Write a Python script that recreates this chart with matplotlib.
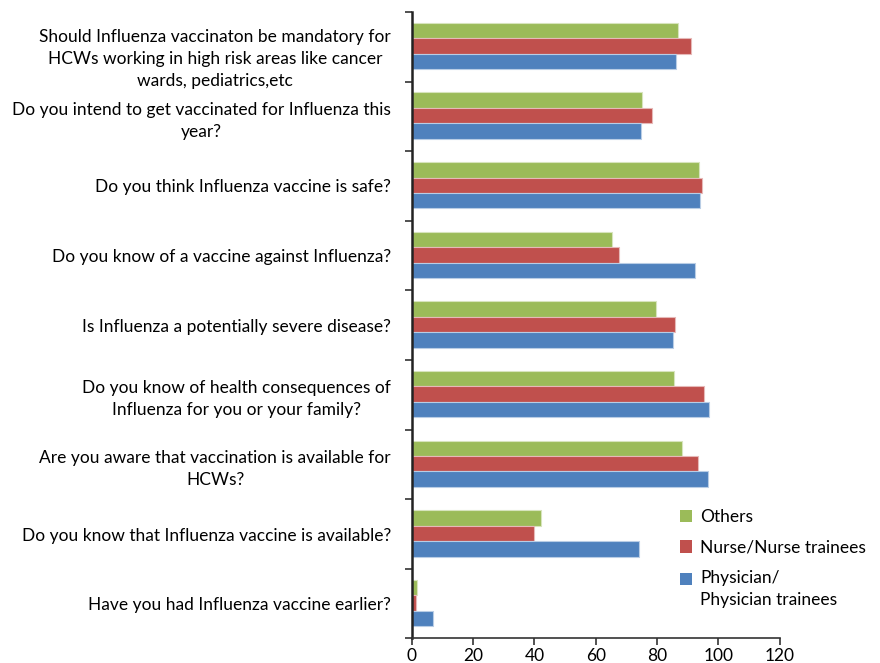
import numpy as np
import matplotlib as mpl
import matplotlib.pyplot as plt
import matplotlib.patches as mpatches
from matplotlib.legend_handler import HandlerPatch

mpl.rcParams['font.family'] = ['Lato', 'DejaVu Sans']

# categories, top to bottom
questions = [
    "Should Influenza vaccinaton be mandatory for\nHCWs working in high risk areas like cancer\nwards, pediatrics,etc",
    "Do you intend to get vaccinated for Influenza this\nyear?",
    "Do you think Influenza vaccine is safe?",
    "Do you know of a vaccine against Influenza?",
    "Is Influenza a potentially severe disease?",
    "Do you know of health consequences of\nInfluenza for you or your family?",
    "Are you aware that vaccination is available for\nHCWs?",
    "Do you know that Influenza vaccine is available?",
    "Have you had Influenza vaccine earlier?",
]
others = [86.7, 75.0, 93.6, 65.3, 79.8, 85.5, 88.0, 42.1, 1.6]
nurses = [91.0, 78.2, 94.5, 67.5, 85.8, 95.2, 93.3, 40.0, 1.2]
physicians = [86.2, 74.9, 94.0, 92.4, 85.1, 97.1, 96.5, 74.1, 6.8]

series_names = ["Others", "Nurse/Nurse trainees", "Physician/\nPhysician trainees"]
colors = ["#9BBB59", "#C0504D", "#4F81BD"]
edges = ["#D7E4BD", "#E6B9B8", "#B9CDE5"]

fig = plt.figure(figsize=(8.8, 6.63), dpi=100)
ax = fig.add_axes([0.468, 0.037, 0.418, 0.945])

n = len(questions)
pos = np.arange(n)[::-1].astype(float)  # top category highest
h = 0.222
offsets = [h, 0.0, -h]
for vals, off, c, e in zip([others, nurses, physicians], offsets, colors, edges):
    ax.barh(pos + off + 0.01, vals, height=h, color=c, edgecolor=e, linewidth=0.8)

ax.set_xlim(0, 120)
ax.set_ylim(-0.5, n - 0.5)
ax.set_xticks(np.arange(0, 121, 20))
# ラベル位置（1行目の3行ラベルは少し下げる）
label_pos = pos.copy()
label_pos[0] -= 0.11
ax.set_yticks(label_pos)
ax.set_yticklabels(questions, multialignment='center', fontsize=12.5, linespacing=1.45)
ax.set_yticks(np.arange(-0.5, n, 1.0), minor=True)

ax.tick_params(axis='y', which='major', length=0, pad=15)
ax.tick_params(axis='y', which='minor', length=5, width=1.2, direction='out', color='#333333')
ax.tick_params(axis='x', which='major', length=5, width=1.2, direction='out', labelsize=12.5, color='#333333', pad=2)

for s in ['top', 'right']:
    ax.spines[s].set_visible(False)
ax.spines['left'].set_linewidth(1.8)
ax.spines['left'].set_color('#222222')
ax.spines['bottom'].set_linewidth(1.2)
ax.spines['bottom'].set_color('#333333')

# 凡例
handles = [mpatches.Patch(facecolor=c, edgecolor='none') for c in colors]


def top_patch(legend, orig_handle, xdescent, ydescent, width, height, fontsize):
    return mpatches.Rectangle((-xdescent, -ydescent + 0.62 * fontsize), width, height)


leg = fig.legend(handles=handles, labels=series_names, loc='upper left',
                 bbox_to_anchor=(0.765, 0.243), frameon=False, fontsize=12.5,
                 handlelength=0.7, handleheight=0.7, handletextpad=0.45,
                 labelspacing=0.85, borderaxespad=0,
                 handler_map={handles[2]: HandlerPatch(patch_func=top_patch)})
for t in leg.get_texts():
    t.set_linespacing(1.45)

fig.savefig("out.png", dpi=100, facecolor='white')
